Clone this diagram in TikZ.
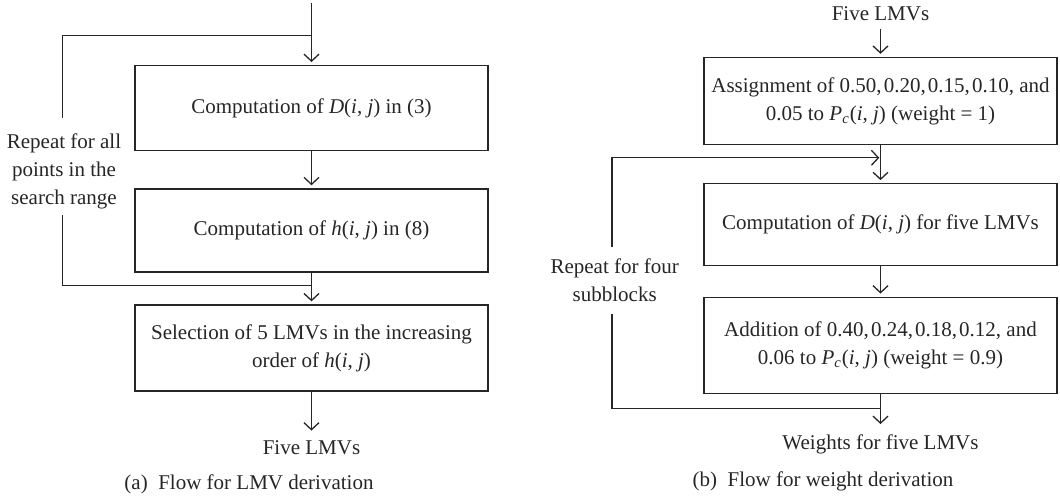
\documentclass[tikz,border=0pt]{standalone}
\usepackage{fontspec}
\setmainfont{Liberation Serif}
\usetikzlibrary{arrows.meta}
\newcommand{\fsz}{\fontsize{10.5}{14}\selectfont}
\newcommand{\cs}{,\hspace{0.1em}}
\begin{document}
\begin{tikzpicture}[x=0.5pt,y=-0.5pt,line width=0.65pt,
  every node/.style={text=black!85},
  flowbox/.style={draw=black!85,minimum width=176.5pt,align=center,inner sep=0pt,font=\fsz},
  txt/.style={align=center,font=\fsz},
  arr/.style={draw=black!85,-{Straight Barb[length=3.5pt,width=7.5pt]},shorten >=1.5pt},
  ln/.style={draw=black!85}]
\useasboundingbox (0,0) rectangle (1060,498);
% ---------- (a) ----------
\coordinate (topa) at (311.5,3);
\node[flowbox,minimum height=42.5pt] (b1) at (311.5,108.2) {Computation of \textit{D}(\textit{i}, \textit{j}) in (3)};
\node[flowbox,minimum height=41.5pt] (b2) at (311.5,230.4) {Computation of \textit{h}(\textit{i}, \textit{j}) in (8)};
\node[flowbox,minimum height=43pt] (b3) at (311.5,348) {Selection of 5 LMVs in the increasing\\order of \textit{h}(\textit{i}, \textit{j})};
\node[txt] (outa) at (311.5,448) {Five LMVs};
\node[txt] (loopa) at (64,171.5) {Repeat for all\\points in the\\search range};
\node[txt] (capa) at (249,484) {(a)\enspace Flow for LMV derivation};
\coordinate (ja1) at (311.5,285.4);
\coordinate (ja2) at (311.5,35.4);
\coordinate (ga1) at (62.7,215);
\coordinate (ga2) at (62.7,118);
\draw[arr] (topa) -- (b1);
\draw[arr] (b1) -- (b2);
\draw[arr] (b2) -- (b3);
\draw[arr] (b3) -- (outa);
\draw[ln] (ja1) -| (ga1);
\draw[ln] (ga2) |- (ja2);
% ---------- (b) ----------
\node[txt] (inb) at (880.5,14.2) {Five LMVs};
\node[flowbox,minimum height=43.5pt] (ba) at (880.5,101) {Assignment of 0.50\cs 0.20\cs 0.15\cs 0.10, and\\0.05 to \textit{P}\textsubscript{\textit{c}}(\textit{i}, \textit{j}) (weight = 1)};
\node[flowbox,minimum height=40.7pt] (bb) at (880.5,224.5) {Computation of \textit{D}(\textit{i}, \textit{j}) for five LMVs};
\node[flowbox,minimum height=48pt] (bc) at (880.5,345.2) {Addition of 0.40\cs 0.24\cs 0.18\cs 0.12, and\\0.06 to \textit{P}\textsubscript{\textit{c}}(\textit{i}, \textit{j}) (weight = 0.9)};
\node[txt] (outb) at (880.5,444) {Weights for five LMVs};
\node[txt] (loopb) at (614.7,280.5) {Repeat for four\\subblocks};
\node[txt] (capb) at (823,481) {(b)\enspace Flow for weight derivation};
\coordinate (jb1) at (880.5,408.5);
\coordinate (jb2) at (880.5,157.8);
\coordinate (gb1) at (612,314);
\coordinate (gb2) at (612,247);
\draw[arr] (inb) -- (ba);
\draw[arr] (ba) -- (bb);
\draw[arr] (bb) -- (bc);
\draw[arr] (bc) -- (outb);
\draw[ln] (jb1) -| (gb1);
\draw[arr,shorten >=0.6pt] (gb2) |- (jb2);
\end{tikzpicture}
\end{document}
